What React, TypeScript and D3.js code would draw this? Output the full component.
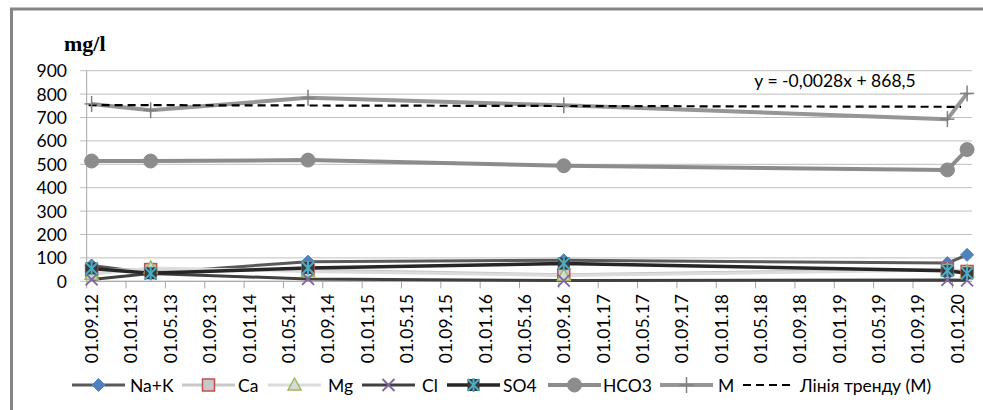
import React from "react";
import * as d3 from "d3";

// ---- data ----
const startYear = 2012;
const startMonth = 9; // September
const monthCount = 90; // Sep 2012 .. Feb 2020 (one slot per month)
const sampleMonths = [0, 6, 22, 48, 87, 89]; // month index of each sample
const seriesNames = ["Na+K", "Ca", "Mg", "Cl", "SO4", "HCO3", "M"];
const naK = [68, 35, 84, 90, 78, 113];
const ca = [48, 50, 48, 28, 52, 42];
const mg = [30, 57, 42, 25, 48, 42];
const cl = [8, 33, 10, 3, 6, 4];
const so4 = [55, 34, 57, 76, 45, 34];
const hco3 = [514, 514, 518, 494, 476, 563];
const mTotal = [758, 731, 784, 752, 693, 803];
const yTicks = [0, 100, 200, 300, 400, 500, 600, 700, 800, 900];
const trendSlope = -0.0028;
const trendIntercept = 868.5;
const trendLabel = "y = -0,0028x + 868,5";
const trendLegend = "Лінія тренду (М)";
const yTitle = "mg/l";

const W = 983;
const H = 410;
const FONT = "Lato, 'Open Sans', 'DejaVu Sans', sans-serif";

const x = d3.scaleLinear().domain([0, monthCount]).range([86.7, 972]);
const y = d3.scaleLinear().domain([0, 900]).range([281.3, 70.7]);
const px = (i: number) => x(sampleMonths[i] + 0.5);

const monthDate = (m: number) => new Date(Date.UTC(startYear, startMonth - 1 + m, 1));
const fmt = (m: number) => {
  const d = monthDate(m);
  const dd = "01";
  const mm = String(d.getUTCMonth() + 1).padStart(2, "0");
  const yy = String(d.getUTCFullYear() % 100).padStart(2, "0");
  return `${dd}.${mm}.${yy}`;
};
const excelSerial = (m: number) => {
  const d = monthDate(m).getTime();
  const base = Date.UTC(1899, 11, 30);
  return Math.round((d - base) / 86400000);
};

type Marker = "diamond" | "square" | "triangle" | "x" | "star" | "circle" | "plus";
interface Series {
  name: string;
  values: number[];
  line: string;
  lw: number;
  marker: Marker;
}
const series: Series[] = [
  { name: seriesNames[0], values: naK, line: "#595959", lw: 3, marker: "diamond" },
  { name: seriesNames[1], values: ca, line: "#C8C8C8", lw: 3, marker: "square" },
  { name: seriesNames[2], values: mg, line: "#DCDCDC", lw: 3, marker: "triangle" },
  { name: seriesNames[3], values: cl, line: "#404040", lw: 3, marker: "x" },
  { name: seriesNames[4], values: so4, line: "#262626", lw: 3.5, marker: "star" },
  { name: seriesNames[5], values: hco3, line: "#8C8C8C", lw: 4, marker: "circle" },
  { name: seriesNames[6], values: mTotal, line: "#969696", lw: 4, marker: "plus" },
];

function MarkerShape({ kind, cx, cy }: { kind: Marker; cx: number; cy: number }) {
  const t = `translate(${cx},${cy})`;
  switch (kind) {
    case "diamond":
      return <path transform={t} d="M0,-6.5L6.5,0L0,6.5L-6.5,0Z" fill="#4F81BD" stroke="#4F81BD" strokeWidth={1} />;
    case "square":
      return <rect transform={t} x={-6} y={-6} width={12} height={12} fill="#C8C8C8" stroke="#C0504D" strokeWidth={1.5} />;
    case "triangle":
      return <path transform={t} d="M0,-7L6.5,5L-6.5,5Z" fill="#D9D9D9" stroke="#9BBB59" strokeWidth={1.5} />;
    case "x":
      return (
        <g transform={t} stroke="#8064A2" strokeWidth={1.8}>
          <line x1={-6} y1={-6} x2={6} y2={6} />
          <line x1={-6} y1={6} x2={6} y2={-6} />
        </g>
      );
    case "star":
      return (
        <g transform={t}>
          <rect x={-6} y={-6} width={12} height={12} fill="#3A3A3A" />
          <g stroke="#4BACC6" strokeWidth={2}>
            <line x1={-6} y1={-6} x2={6} y2={6} />
            <line x1={-6} y1={6} x2={6} y2={-6} />
            <line x1={0} y1={-7} x2={0} y2={7} />
          </g>
        </g>
      );
    case "circle":
      return <circle cx={cx} cy={cy} r={7} fill="#8C8C8C" stroke="#8C8C8C" />;
    case "plus":
      return (
        <g transform={t} stroke="#7F7F7F" strokeWidth={1.5}>
          <line x1={-7} y1={0} x2={7} y2={0} />
          <line x1={0} y1={-8} x2={0} y2={8} />
        </g>
      );
  }
}

export default function App() {
  const lineGen = d3
    .line<number>()
    .x((_, i) => px(i))
    .y((v) => y(v));

  const labelMonths = d3.range(0, monthCount, 4);

  const t0 = sampleMonths[0];
  const t1 = sampleMonths[sampleMonths.length - 1];
  const trendY0 = trendSlope * excelSerial(t0) + trendIntercept;
  const trendY1 = trendSlope * excelSerial(t1) + trendIntercept;

  const legendItems = [
    { s: series[0], lx: 72, tx: 130 },
    { s: series[1], lx: 182, tx: 238 },
    { s: series[2], lx: 268, tx: 328 },
    { s: series[3], lx: 362, tx: 422 },
    { s: series[4], lx: 447, tx: 503 },
    { s: series[5], lx: 548, tx: 603 },
    { s: series[6], lx: 660, tx: 718 },
  ];
  const legY = 385;

  return (
    <svg
      width={W}
      height={H}
      style={{ position: "absolute", left: 0, top: 0, background: "#fff" }}
      fontFamily={FONT}
    >
      <rect x={0} y={0} width={W} height={H} fill="#fff" />
      <rect x={11.5} y={9} width={1000} height={420} fill="none" stroke="#858585" strokeWidth={3} />

      {/* gridlines */}
      {yTicks.map((t) => (
        <line key={"g" + t} x1={80} x2={x(monthCount)} y1={y(t)} y2={y(t)} stroke="#BFBFBF" strokeWidth={1} />
      ))}
      {/* y axis */}
      <line x1={x(0)} x2={x(0)} y1={y(900)} y2={y(0)} stroke="#A6A6A6" strokeWidth={1} />
      {yTicks.map((t) => (
        <text key={"yl" + t} x={67} y={y(t)} textAnchor="end" dominantBaseline="central" fontSize={17.5} fill="#000">
          {t}
        </text>
      ))}
      {/* x axis */}
      <line x1={x(0)} x2={x(monthCount)} y1={y(0)} y2={y(0)} stroke="#A6A6A6" strokeWidth={1} />
      {labelMonths.map((m) => (
        <line key={"xt" + m} x1={x(m)} x2={x(m)} y1={y(0)} y2={y(0) + 7} stroke="#A6A6A6" strokeWidth={1} />
      ))}
      {labelMonths.map((m) => (
        <text
          key={"xl" + m}
          transform={`translate(${x(m + 0.5)},294) rotate(-90)`}
          textAnchor="end"
          dominantBaseline="central"
          fontSize={17.5}
          fill="#000"
        >
          {fmt(m)}
        </text>
      ))}

      {/* title */}
      <text x={64} y={51} fontFamily="'Liberation Serif', serif" fontWeight="bold" fontSize={22} fill="#000">
        {yTitle}
      </text>

      {/* series lines */}
      {series.map((s) => (
        <path key={"l" + s.name} d={lineGen(s.values) || ""} fill="none" stroke={s.line} strokeWidth={s.lw} strokeLinejoin="round" />
      ))}
      {/* trend line */}
      <line
        x1={px(0) - 3}
        x2={px(sampleMonths.length - 1) - 6}
        y1={y(trendY0)}
        y2={y(trendY1)}
        stroke="#000"
        strokeWidth={2.2}
        strokeDasharray="8,5"
      />
      {/* markers */}
      {series.map((s) => (
        <g key={"m" + s.name}>
          {s.values.map((v, i) => (
            <MarkerShape key={i} kind={s.marker} cx={px(i)} cy={y(v)} />
          ))}
        </g>
      ))}

      <text x={835} y={80} textAnchor="middle" dominantBaseline="central" fontSize={17.5} fill="#000">
        {trendLabel}
      </text>

      {/* legend */}
      {legendItems.map(({ s, lx, tx }) => (
        <g key={"lg" + s.name}>
          <line x1={lx} x2={lx + 53} y1={legY} y2={legY} stroke={s.line} strokeWidth={s.lw} />
          <MarkerShape kind={s.marker} cx={lx + 26.5} cy={legY} />
          <text x={tx} y={legY} dominantBaseline="central" fontSize={17.5} fill="#000">
            {s.name}
          </text>
        </g>
      ))}
      <line x1={743} x2={795} y1={legY} y2={legY} stroke="#000" strokeWidth={2.2} strokeDasharray="8,5" />
      <text x={800} y={legY} dominantBaseline="central" fontSize={17.5} fill="#000">
        {trendLegend}
      </text>
    </svg>
  );
}
